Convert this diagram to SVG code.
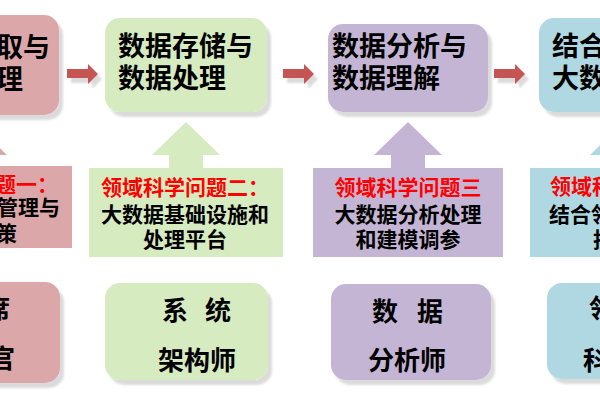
<svg xmlns="http://www.w3.org/2000/svg" width="600" height="400" viewBox="0 0 600 400">
<style>
.pink{fill:#DCA7A8}.green{fill:#D6EBC0}.purple{fill:#C4B5D4}.blue{fill:#B0D8E2}
.t{font-family:"Noto Sans CJK SC","Noto Sans",sans-serif;font-weight:700;fill:#000}
.big{font-size:27px}.mid{font-size:26px}.sm{font-size:21px}
.red{fill:#FF0000}
.arr{fill:#C55552}
</style>
<defs>
<filter id="sh" x="-20%" y="-20%" width="140%" height="140%">
<feDropShadow dx="4" dy="5" stdDeviation="1.2" flood-color="#000" flood-opacity="0.14"/>
</filter>
</defs>
<rect width="600" height="400" fill="#fff"/>
<g id="connectors">
<path class="arr" filter="url(#sh)" d="M67,69 H88 V64 L98,74 L88,84 V78 H67 Z"/>
<path class="arr" filter="url(#sh)" d="M283,69 H304 V64 L314,74 L304,84 V78 H283 Z"/>
<path class="arr" filter="url(#sh)" d="M494,69 H515 V64 L525,74 L515,84 V78 H494 Z"/>
</g>
<g id="top1">
<rect class="pink" filter="url(#sh)" x="-60" y="15" width="119" height="100" rx="15"/>
<text class="t big" x="50" y="57" text-anchor="end">取与</text>
<text class="t big" x="23" y="89" text-anchor="end">理</text>
</g>
<g id="top2">
<rect class="green" filter="url(#sh)" x="105" y="18" width="162" height="94" rx="15"/>
<text class="t big" x="118" y="56">数据存储与</text>
<text class="t big" x="118" y="88">数据处理</text>
</g>
<g id="top3">
<rect class="purple" filter="url(#sh)" x="328" y="24" width="160" height="88" rx="15"/>
<text class="t big" x="332" y="56">数据分析与</text>
<text class="t big" x="332" y="88">数据理解</text>
</g>
<g id="top4">
<rect class="blue" filter="url(#sh)" x="539" y="18" width="120" height="94" rx="15"/>
<text class="t big" x="552" y="56">结合</text>
<text class="t big" x="552" y="88">大数</text>
</g>
<g id="callout1">
<path class="pink" d="M-44,168 V155 H-61 L-27,122 L7,155 H-10 V168 Z"/>
<rect class="pink" x="-120" y="166" width="192" height="82"/>
<text class="t sm red" x="58" y="192" text-anchor="end">题一：</text>
<text class="t sm" x="60" y="215" text-anchor="end">管理与</text>
<text class="t sm" x="17" y="241" text-anchor="end">策</text>
</g>
<g id="callout2">
<path class="green" d="M169,168 V155 H152 L186,122 L220,155 H203 V168 Z"/>
<rect class="green" x="89" y="168" width="194" height="89"/>
<text class="t sm red" x="185" y="195" text-anchor="middle">领域科学问题二：</text>
<text class="t sm" x="185" y="222" text-anchor="middle">大数据基础设施和</text>
<text class="t sm" x="185" y="247" text-anchor="middle">处理平台</text>
</g>
<g id="callout3">
<path class="purple" d="M391,168 V155 H374 L408,122 L442,155 H425 V168 Z"/>
<rect class="purple" x="313" y="168" width="190" height="89"/>
<text class="t sm red" x="408" y="195" text-anchor="middle">领域科学问题三</text>
<text class="t sm" x="408" y="222" text-anchor="middle">大数据分析处理</text>
<text class="t sm" x="408" y="247" text-anchor="middle">和建模调参</text>
</g>
<g id="callout4">
<path class="blue" d="M607,168 V155 H590 L624,122 L658,155 H641 V168 Z"/>
<rect class="blue" x="530" y="168" width="100" height="89"/>
<text class="t sm red" x="550" y="194">领域科</text>
<text class="t sm" x="549" y="222">结合领</text>
<text class="t sm" x="593" y="247">技</text>
</g>
<g id="role1">
<rect class="pink" filter="url(#sh)" x="-60" y="282" width="120" height="101" rx="15"/>
<text class="t mid" x="10" y="318" text-anchor="end">席</text>
<text class="t mid" x="15" y="368" text-anchor="end">官</text>
</g>
<g id="role2">
<rect class="green" filter="url(#sh)" x="105" y="283" width="163" height="97" rx="15"/>
<text class="t mid" x="175" y="320" text-anchor="middle">系</text>
<text class="t mid" x="218" y="320" text-anchor="middle">统</text>
<text class="t mid" x="197" y="370" text-anchor="middle">架构师</text>
</g>
<g id="role3">
<rect class="purple" filter="url(#sh)" x="331" y="284" width="160" height="96" rx="15"/>
<text class="t mid" x="385" y="321" text-anchor="middle">数</text>
<text class="t mid" x="430" y="321" text-anchor="middle">据</text>
<text class="t mid" x="407" y="370" text-anchor="middle">分析师</text>
</g>
<g id="role4">
<rect class="blue" filter="url(#sh)" x="547" y="283" width="120" height="96" rx="15"/>
<text class="t mid" x="589" y="318">领</text>
<text class="t mid" x="583" y="370">科</text>
</g>
</svg>
